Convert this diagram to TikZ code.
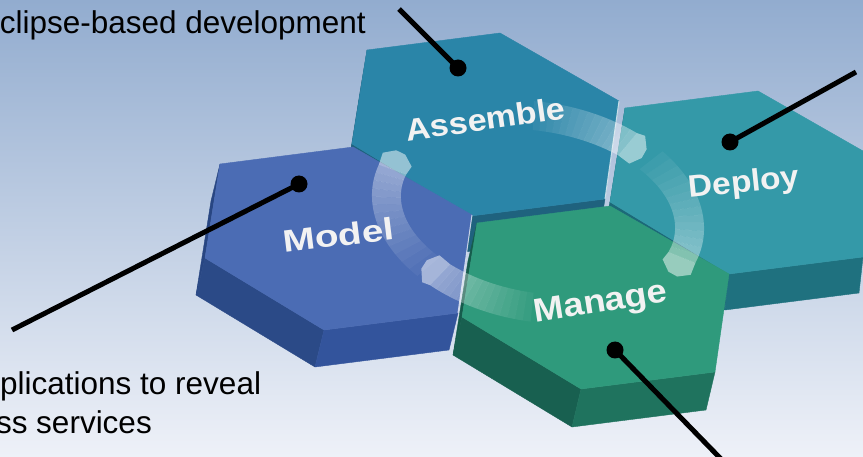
\documentclass[tikz,border=0pt]{standalone}
\usepackage{fontspec}
\setmainfont{Liberation Sans}
\usetikzlibrary{calc}
\definecolor{bgtop}{RGB}{146,172,207}
\definecolor{bgbot}{RGB}{238,241,248}
\definecolor{mtop}{RGB}{75,108,180}
\definecolor{mleft}{RGB}{40,70,130}
\definecolor{mll}{RGB}{43,74,135}
\definecolor{mlr}{RGB}{51,84,156}
\definecolor{atop}{RGB}{42,133,168}
\definecolor{aside}{RGB}{31,98,126}
\definecolor{dtop}{RGB}{52,153,168}
\definecolor{dside}{RGB}{28,105,120}
\definecolor{dlr}{RGB}{31,113,127}
\definecolor{gtop}{RGB}{47,154,124}
\definecolor{gleft}{RGB}{22,92,76}
\definecolor{gll}{RGB}{24,96,80}
\definecolor{glr}{RGB}{31,115,94}
\definecolor{labelwhite}{RGB}{242,242,242}
\tikzset{
  face/.style={fill=#1, draw=#1, line width=0.4pt, line join=round},
  headfill/.style={fill=white, fill opacity=0.5},
  leader/.style={draw=black, line width=5pt},
  dotmark/.style={circle, fill=black, inner sep=0pt, minimum size=17pt},
  hexlabel/.style={text=labelwhite, font=\bfseries\fontsize{31}{31}\selectfont, inner sep=0pt},
  note/.style={text=black, font=\fontsize{31.5}{38}\selectfont, inner sep=0pt},
  edgelight/.style={draw=white, draw opacity=0.7, line width=1pt},
}
\newcommand\hexsides[7]{%
  \begin{scope}[shift={(#1,#2)}]
    \fill[face=#5] (0,0) -- (-15,94) -- ({-15+#3},{94+#4}) -- (#3,#4) -- cycle;
    \fill[face=#6] (-15,94) -- (104,166) -- ({104+#3},{166+#4}) -- ({-15+#3},{94+#4}) -- cycle;
    \fill[face=#7] (104,166) -- (238,149) -- ({238+#3},{149+#4}) -- ({104+#3},{166+#4}) -- cycle;
  \end{scope}}
\newcommand\hextop[3]{%
  \begin{scope}[shift={(#1,#2)}]
    \fill[face=#3] (0,0) -- (133,-17) -- (252,51) -- (238,149) -- (104,166) -- (-15,94) -- cycle;
  \end{scope}}
% ring: centre line ellipse 153 x 95, band half width 14.5
\newcommand\ringarrow[2]{%
  \foreach \i in {0,...,13}{%
    \pgfmathsetmacro\ta{#1+(#2-#1)*\i/14}%
    \pgfmathsetmacro\tb{#1+(#2-#1)*(\i+1)/14}%
    \pgfmathsetmacro\op{0.02+0.38*(\i+1)/14}%
    \fill[white, fill opacity=\op] plot[domain=\ta:\tb, samples=4] ({167.5*cos(\x)},{109.5*sin(\x)})
      -- plot[domain=\tb:\ta, samples=4] ({138.5*cos(\x)},{80.5*sin(\x)}) -- cycle;%
  }%
  \pgfmathsetmacro\px{153*cos(#2)}%
  \pgfmathsetmacro\py{95*sin(#2)}%
  \pgfmathsetmacro\tx{-153*sin(#2)}%
  \pgfmathsetmacro\ty{95*cos(#2)}%
  \pgfmathsetmacro\tn{veclen(\tx,\ty)}%
  \pgfmathsetmacro\ux{\tx/\tn}%
  \pgfmathsetmacro\uy{\ty/\tn}%
  \coordinate (ho) at ({167.5*cos(#2)},{109.5*sin(#2)});
  \coordinate (hi) at ({138.5*cos(#2)},{80.5*sin(#2)});
  \coordinate (h1) at ({\px+11*\ux+16*\uy},{\py+11*\uy-16*\ux});
  \coordinate (h2) at ({\px+19*\ux+5*\uy},{\py+19*\uy-5*\ux});
  \coordinate (h3) at ({\px+19*\ux-5*\uy},{\py+19*\uy+5*\ux});
  \coordinate (h4) at ({\px+11*\ux-16*\uy},{\py+11*\uy+16*\ux});
  \fill[headfill] (ho) -- (h1) -- (h2) -- (h3) -- (h4) -- (hi) -- cycle;
}
\begin{document}
\begin{tikzpicture}[x=1pt,y=-1pt]
\useasboundingbox (0,0) rectangle (863,457);
\shade[top color=bgtop, bottom color=bgbot] (0,0) rectangle (863,457);
\clip (0,0) rectangle (863,457);

% side faces (back to front)
\hexsides{367}{50}{-6}{36}{aside}{aside}{aside}
\hexsides{625}{108}{-4}{36}{dside}{dside}{dlr}
\hexsides{220}{164}{-9}{37}{mleft}{mll}{mlr}
\hexsides{477}{223}{-9}{38}{gleft}{gll}{glr}
% top faces
\hextop{367}{50}{atop}
\hextop{625}{108}{dtop}
\hextop{220}{164}{mtop}
\hextop{477}{223}{gtop}
% light edges
\draw[edgelight] (619,101) -- (605,199);
\draw[edgelight] (472,215) -- (458,313);

% cycle arrows
\begin{scope}[shift={(538,212)}, rotate=-10]
  \ringarrow{130}{190}
  \ringarrow{262}{300}
  \ringarrow{312}{372}
  \ringarrow{86}{124}
\end{scope}

% hexagon labels
\node[hexlabel, rotate=8, xscale=1.1, anchor=base] (lassemble) at (487,130) {Assemble};
\node[hexlabel, rotate=7, xscale=1.25, anchor=base] (lmodel) at (340,246) {Model};
\node[hexlabel, rotate=6, xscale=1.08, anchor=base] (ldeploy) at (745,192) {Deploy};
\node[hexlabel, font=\bfseries\fontsize{33}{33}\selectfont, rotate=9, xscale=1.1, anchor=base] (lmanage) at (602,312) {Manage};

% leader lines
\node[dotmark] (adot) at (458,68) {};
\coordinate (aend) at (399,9);
\draw[leader] (aend) -- (adot.center);
\node[dotmark] (ddot) at (730,142) {};
\coordinate (dend) at (856,72);
\draw[leader] (dend) -- (ddot.center);
\node[dotmark] (mdot) at (299,184) {};
\coordinate (mend) at (12,330);
\draw[leader] (mend) -- (mdot.center);
\node[dotmark] (gdot) at (615,350) {};
\coordinate (gend) at (722,460);
\draw[leader] (gend) -- (gdot.center);

% annotation texts
\node[note, anchor=base east] (ntop) at (366,34) {clipse-based development};
\node[note, anchor=base west] (nbot1) at (0,394) {plications to reveal};
\node[note, anchor=base east] (nbot2) at (152,433) {ss services};
\end{tikzpicture}
\end{document}
